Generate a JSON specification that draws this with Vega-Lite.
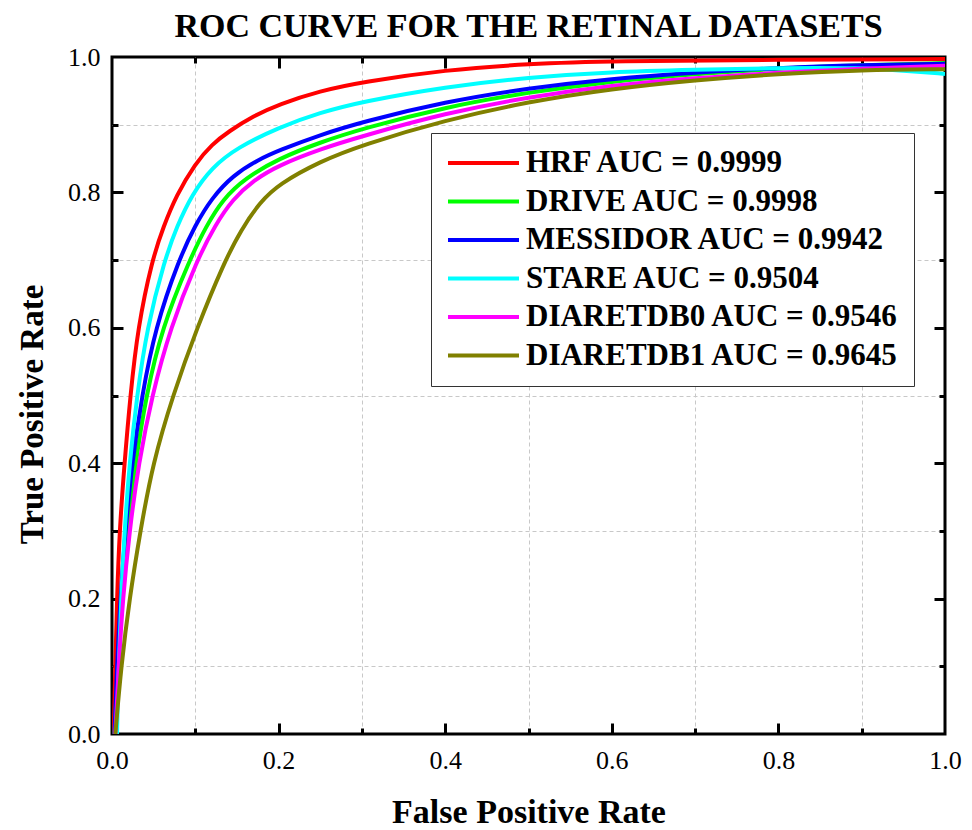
{
  "$schema": "https://vega.github.io/schema/vega-lite/v6.json",
  "width": 833,
  "height": 677,
  "autosize": {"type": "none"},
  "padding": {"left": 112, "top": 57, "right": 27, "bottom": 96},
  "background": "white",
  "config": {
    "view": {"stroke": "black", "strokeWidth": 3},
    "font": "Liberation Serif",
    "axis": {"labelFont": "Liberation Serif", "labelFontSize": 26, "labelColor": "black", "titleFont": "Liberation Serif", "titleFontSize": 33, "titleFontWeight": "bold", "titleColor": "black"}
  },
  "title": {"text": "ROC CURVE FOR THE RETINAL DATASETS", "font": "Liberation Serif", "fontSize": 34, "fontWeight": "bold", "color": "black", "anchor": "middle", "offset": 0},
  "data": {"values": [
    {"s": "HRF AUC = 0.9999", "x": 0.002, "y": 0},
    {"s": "HRF AUC = 0.9999", "x": 0.004, "y": 0.1},
    {"s": "HRF AUC = 0.9999", "x": 0.006, "y": 0.2},
    {"s": "HRF AUC = 0.9999", "x": 0.009, "y": 0.3},
    {"s": "HRF AUC = 0.9999", "x": 0.015, "y": 0.4},
    {"s": "HRF AUC = 0.9999", "x": 0.022, "y": 0.5},
    {"s": "HRF AUC = 0.9999", "x": 0.031, "y": 0.6},
    {"s": "HRF AUC = 0.9999", "x": 0.048, "y": 0.7},
    {"s": "HRF AUC = 0.9999", "x": 0.062, "y": 0.75},
    {"s": "HRF AUC = 0.9999", "x": 0.077, "y": 0.795},
    {"s": "HRF AUC = 0.9999", "x": 0.1, "y": 0.843},
    {"s": "HRF AUC = 0.9999", "x": 0.12, "y": 0.871},
    {"s": "HRF AUC = 0.9999", "x": 0.14, "y": 0.89},
    {"s": "HRF AUC = 0.9999", "x": 0.17, "y": 0.913},
    {"s": "HRF AUC = 0.9999", "x": 0.2, "y": 0.93},
    {"s": "HRF AUC = 0.9999", "x": 0.25, "y": 0.95},
    {"s": "HRF AUC = 0.9999", "x": 0.3, "y": 0.963},
    {"s": "HRF AUC = 0.9999", "x": 0.4, "y": 0.981},
    {"s": "HRF AUC = 0.9999", "x": 0.5, "y": 0.99},
    {"s": "HRF AUC = 0.9999", "x": 0.6, "y": 0.994},
    {"s": "HRF AUC = 0.9999", "x": 0.8, "y": 0.996},
    {"s": "HRF AUC = 0.9999", "x": 1.0, "y": 0.997},

    {"s": "DRIVE AUC = 0.9998", "x": 0.003, "y": 0},
    {"s": "DRIVE AUC = 0.9998", "x": 0.007, "y": 0.1},
    {"s": "DRIVE AUC = 0.9998", "x": 0.012, "y": 0.2},
    {"s": "DRIVE AUC = 0.9998", "x": 0.019, "y": 0.3},
    {"s": "DRIVE AUC = 0.9998", "x": 0.028, "y": 0.4},
    {"s": "DRIVE AUC = 0.9998", "x": 0.041, "y": 0.5},
    {"s": "DRIVE AUC = 0.9998", "x": 0.06, "y": 0.6},
    {"s": "DRIVE AUC = 0.9998", "x": 0.093, "y": 0.7},
    {"s": "DRIVE AUC = 0.9998", "x": 0.113, "y": 0.75},
    {"s": "DRIVE AUC = 0.9998", "x": 0.133, "y": 0.79},
    {"s": "DRIVE AUC = 0.9998", "x": 0.16, "y": 0.821},
    {"s": "DRIVE AUC = 0.9998", "x": 0.2, "y": 0.85},
    {"s": "DRIVE AUC = 0.9998", "x": 0.25, "y": 0.874},
    {"s": "DRIVE AUC = 0.9998", "x": 0.3, "y": 0.894},
    {"s": "DRIVE AUC = 0.9998", "x": 0.4, "y": 0.926},
    {"s": "DRIVE AUC = 0.9998", "x": 0.5, "y": 0.948},
    {"s": "DRIVE AUC = 0.9998", "x": 0.6, "y": 0.964},
    {"s": "DRIVE AUC = 0.9998", "x": 0.7, "y": 0.975},
    {"s": "DRIVE AUC = 0.9998", "x": 0.8, "y": 0.983},
    {"s": "DRIVE AUC = 0.9998", "x": 0.9, "y": 0.988},
    {"s": "DRIVE AUC = 0.9998", "x": 1.0, "y": 0.991},

    {"s": "MESSIDOR AUC = 0.9942", "x": 0.003, "y": 0},
    {"s": "MESSIDOR AUC = 0.9942", "x": 0.006, "y": 0.1},
    {"s": "MESSIDOR AUC = 0.9942", "x": 0.01, "y": 0.2},
    {"s": "MESSIDOR AUC = 0.9942", "x": 0.016, "y": 0.3},
    {"s": "MESSIDOR AUC = 0.9942", "x": 0.024, "y": 0.4},
    {"s": "MESSIDOR AUC = 0.9942", "x": 0.036, "y": 0.5},
    {"s": "MESSIDOR AUC = 0.9942", "x": 0.052, "y": 0.6},
    {"s": "MESSIDOR AUC = 0.9942", "x": 0.08, "y": 0.7},
    {"s": "MESSIDOR AUC = 0.9942", "x": 0.1, "y": 0.752},
    {"s": "MESSIDOR AUC = 0.9942", "x": 0.12, "y": 0.792},
    {"s": "MESSIDOR AUC = 0.9942", "x": 0.145, "y": 0.825},
    {"s": "MESSIDOR AUC = 0.9942", "x": 0.175, "y": 0.848},
    {"s": "MESSIDOR AUC = 0.9942", "x": 0.2, "y": 0.862},
    {"s": "MESSIDOR AUC = 0.9942", "x": 0.25, "y": 0.885},
    {"s": "MESSIDOR AUC = 0.9942", "x": 0.3, "y": 0.904},
    {"s": "MESSIDOR AUC = 0.9942", "x": 0.4, "y": 0.934},
    {"s": "MESSIDOR AUC = 0.9942", "x": 0.5, "y": 0.954},
    {"s": "MESSIDOR AUC = 0.9942", "x": 0.6, "y": 0.968},
    {"s": "MESSIDOR AUC = 0.9942", "x": 0.7, "y": 0.977},
    {"s": "MESSIDOR AUC = 0.9942", "x": 0.8, "y": 0.984},
    {"s": "MESSIDOR AUC = 0.9942", "x": 0.9, "y": 0.988},
    {"s": "MESSIDOR AUC = 0.9942", "x": 1.0, "y": 0.99},

    {"s": "STARE AUC = 0.9504", "x": 0.006, "y": 0},
    {"s": "STARE AUC = 0.9504", "x": 0.008, "y": 0.1},
    {"s": "STARE AUC = 0.9504", "x": 0.011, "y": 0.2},
    {"s": "STARE AUC = 0.9504", "x": 0.015, "y": 0.3},
    {"s": "STARE AUC = 0.9504", "x": 0.021, "y": 0.4},
    {"s": "STARE AUC = 0.9504", "x": 0.03, "y": 0.5},
    {"s": "STARE AUC = 0.9504", "x": 0.042, "y": 0.6},
    {"s": "STARE AUC = 0.9504", "x": 0.063, "y": 0.7},
    {"s": "STARE AUC = 0.9504", "x": 0.078, "y": 0.75},
    {"s": "STARE AUC = 0.9504", "x": 0.096, "y": 0.797},
    {"s": "STARE AUC = 0.9504", "x": 0.12, "y": 0.837},
    {"s": "STARE AUC = 0.9504", "x": 0.15, "y": 0.866},
    {"s": "STARE AUC = 0.9504", "x": 0.2, "y": 0.896},
    {"s": "STARE AUC = 0.9504", "x": 0.25, "y": 0.918},
    {"s": "STARE AUC = 0.9504", "x": 0.3, "y": 0.934},
    {"s": "STARE AUC = 0.9504", "x": 0.4, "y": 0.956},
    {"s": "STARE AUC = 0.9504", "x": 0.5, "y": 0.97},
    {"s": "STARE AUC = 0.9504", "x": 0.6, "y": 0.978},
    {"s": "STARE AUC = 0.9504", "x": 0.7, "y": 0.981},
    {"s": "STARE AUC = 0.9504", "x": 0.8, "y": 0.984},
    {"s": "STARE AUC = 0.9504", "x": 0.9, "y": 0.984},
    {"s": "STARE AUC = 0.9504", "x": 0.95, "y": 0.98},
    {"s": "STARE AUC = 0.9504", "x": 1.0, "y": 0.975},

    {"s": "DIARETDB0 AUC = 0.9546", "x": 0.004, "y": 0},
    {"s": "DIARETDB0 AUC = 0.9546", "x": 0.008, "y": 0.1},
    {"s": "DIARETDB0 AUC = 0.9546", "x": 0.013, "y": 0.2},
    {"s": "DIARETDB0 AUC = 0.9546", "x": 0.021, "y": 0.3},
    {"s": "DIARETDB0 AUC = 0.9546", "x": 0.032, "y": 0.4},
    {"s": "DIARETDB0 AUC = 0.9546", "x": 0.048, "y": 0.5},
    {"s": "DIARETDB0 AUC = 0.9546", "x": 0.07, "y": 0.6},
    {"s": "DIARETDB0 AUC = 0.9546", "x": 0.102, "y": 0.7},
    {"s": "DIARETDB0 AUC = 0.9546", "x": 0.124, "y": 0.752},
    {"s": "DIARETDB0 AUC = 0.9546", "x": 0.145, "y": 0.79},
    {"s": "DIARETDB0 AUC = 0.9546", "x": 0.17, "y": 0.818},
    {"s": "DIARETDB0 AUC = 0.9546", "x": 0.2, "y": 0.84},
    {"s": "DIARETDB0 AUC = 0.9546", "x": 0.25, "y": 0.864},
    {"s": "DIARETDB0 AUC = 0.9546", "x": 0.3, "y": 0.883},
    {"s": "DIARETDB0 AUC = 0.9546", "x": 0.4, "y": 0.917},
    {"s": "DIARETDB0 AUC = 0.9546", "x": 0.5, "y": 0.941},
    {"s": "DIARETDB0 AUC = 0.9546", "x": 0.6, "y": 0.958},
    {"s": "DIARETDB0 AUC = 0.9546", "x": 0.7, "y": 0.969},
    {"s": "DIARETDB0 AUC = 0.9546", "x": 0.8, "y": 0.977},
    {"s": "DIARETDB0 AUC = 0.9546", "x": 0.9, "y": 0.983},
    {"s": "DIARETDB0 AUC = 0.9546", "x": 1.0, "y": 0.987},

    {"s": "DIARETDB1 AUC = 0.9645", "x": 0.004, "y": 0},
    {"s": "DIARETDB1 AUC = 0.9645", "x": 0.011, "y": 0.1},
    {"s": "DIARETDB1 AUC = 0.9645", "x": 0.021, "y": 0.2},
    {"s": "DIARETDB1 AUC = 0.9645", "x": 0.034, "y": 0.3},
    {"s": "DIARETDB1 AUC = 0.9645", "x": 0.049, "y": 0.4},
    {"s": "DIARETDB1 AUC = 0.9645", "x": 0.073, "y": 0.5},
    {"s": "DIARETDB1 AUC = 0.9645", "x": 0.102, "y": 0.6},
    {"s": "DIARETDB1 AUC = 0.9645", "x": 0.134, "y": 0.695},
    {"s": "DIARETDB1 AUC = 0.9645", "x": 0.155, "y": 0.745},
    {"s": "DIARETDB1 AUC = 0.9645", "x": 0.178, "y": 0.786},
    {"s": "DIARETDB1 AUC = 0.9645", "x": 0.2, "y": 0.812},
    {"s": "DIARETDB1 AUC = 0.9645", "x": 0.25, "y": 0.846},
    {"s": "DIARETDB1 AUC = 0.9645", "x": 0.3, "y": 0.87},
    {"s": "DIARETDB1 AUC = 0.9645", "x": 0.4, "y": 0.907},
    {"s": "DIARETDB1 AUC = 0.9645", "x": 0.5, "y": 0.934},
    {"s": "DIARETDB1 AUC = 0.9645", "x": 0.6, "y": 0.953},
    {"s": "DIARETDB1 AUC = 0.9645", "x": 0.7, "y": 0.966},
    {"s": "DIARETDB1 AUC = 0.9645", "x": 0.8, "y": 0.975},
    {"s": "DIARETDB1 AUC = 0.9645", "x": 0.9, "y": 0.981},
    {"s": "DIARETDB1 AUC = 0.9645", "x": 1.0, "y": 0.982}
  ]},
  "layer": [
    {
      "mark": {"type": "point", "opacity": 0},
      "encoding": {
        "x": {"field": "x", "type": "quantitative", "scale": {"domain": [0, 1], "nice": false, "zero": false},
              "axis": {"orient": "bottom", "values": [0.1, 0.3, 0.5, 0.7, 0.9], "labels": false, "ticks": true, "tickSize": -6, "tickWidth": 3, "tickColor": "black", "domain": false, "grid": true, "gridColor": "#c8c8c8", "gridDash": [4, 3], "gridWidth": 1, "title": null}},
        "y": {"field": "y", "type": "quantitative", "scale": {"domain": [0, 1], "nice": false, "zero": false},
              "axis": {"orient": "left", "values": [0.1, 0.3, 0.5, 0.7, 0.9], "labels": false, "ticks": true, "tickSize": -6, "tickWidth": 3, "tickColor": "black", "domain": false, "grid": true, "gridColor": "#c8c8c8", "gridDash": [4, 3], "gridWidth": 1, "title": null}}
      }
    },
    {
      "mark": {"type": "point", "opacity": 0},
      "encoding": {
        "x": {"field": "x", "type": "quantitative",
              "axis": {"orient": "bottom", "values": [0.2, 0.4, 0.6, 0.8], "labels": false, "ticks": true, "tickSize": -11, "tickWidth": 3, "tickColor": "black", "domain": false, "grid": false, "title": null}},
        "y": {"field": "y", "type": "quantitative",
              "axis": {"orient": "left", "values": [0.2, 0.4, 0.6, 0.8], "labels": false, "ticks": true, "tickSize": -11, "tickWidth": 3, "tickColor": "black", "domain": false, "grid": false, "title": null}}
      }
    },
    {
      "mark": {"type": "point", "opacity": 0},
      "encoding": {
        "x": {"field": "x", "type": "quantitative",
              "axis": {"orient": "top", "values": [0.2, 0.4, 0.6, 0.8], "labels": false, "ticks": true, "tickSize": -11, "tickWidth": 3, "tickColor": "black", "domain": false, "grid": false, "title": null}},
        "y": {"field": "y", "type": "quantitative",
              "axis": {"orient": "right", "values": [0.2, 0.4, 0.6, 0.8], "labels": false, "ticks": true, "tickSize": -11, "tickWidth": 3, "tickColor": "black", "domain": false, "grid": false, "title": null}}
      }
    },
    {
      "mark": {"type": "point", "opacity": 0},
      "encoding": {
        "x": {"field": "x", "type": "quantitative",
              "axis": {"orient": "top", "values": [0.1, 0.3, 0.5, 0.7, 0.9], "labels": false, "ticks": true, "tickSize": -6, "tickWidth": 3, "tickColor": "black", "domain": false, "grid": false, "title": null}},
        "y": {"field": "y", "type": "quantitative",
              "axis": {"orient": "right", "values": [0.1, 0.3, 0.5, 0.7, 0.9], "labels": false, "ticks": true, "tickSize": -6, "tickWidth": 3, "tickColor": "black", "domain": false, "grid": false, "title": null}}
      }
    },
    {
      "mark": {"type": "line", "strokeWidth": 4, "interpolate": "basis", "clip": true},
      "encoding": {
        "x": {"field": "x", "type": "quantitative",
              "axis": {"orient": "bottom", "values": [0, 0.2, 0.4, 0.6, 0.8, 1], "format": ".1f", "ticks": false, "domain": false, "grid": false, "labelFlush": false, "labelOverlap": false, "labelPadding": 13, "title": "False Positive Rate", "titleFontSize": 34, "titlePadding": 22}},
        "y": {"field": "y", "type": "quantitative",
              "axis": {"orient": "left", "values": [0, 0.2, 0.4, 0.6, 0.8, 1], "format": ".1f", "ticks": false, "domain": false, "grid": false, "labelFlush": false, "labelOverlap": false, "labelPadding": 12, "title": "True Positive Rate", "titlePadding": 18, "titleY": 357}},
        "order": {"field": "x", "type": "quantitative"},
        "color": {"field": "s", "type": "nominal",
                  "scale": {"domain": ["HRF AUC = 0.9999", "DRIVE AUC = 0.9998", "MESSIDOR AUC = 0.9942", "STARE AUC = 0.9504", "DIARETDB0 AUC = 0.9546", "DIARETDB1 AUC = 0.9645"],
                            "range": ["#ff0000", "#00ff00", "#0000ff", "#00ffff", "#ff00ff", "#808000"]},
                  "legend": {"orient": "none", "legendX": 319, "legendY": 76, "title": null, "strokeColor": "#333333", "fillColor": "white", "padding": 15, "symbolType": "stroke", "symbolSize": 5041, "symbolStrokeWidth": 4, "clipHeight": 30, "labelFont": "Liberation Serif", "labelFontSize": 31, "labelFontWeight": "bold", "labelColor": "black", "labelOffset": 5, "rowPadding": 7.5, "labelLimit": 600}}
      }
    }
  ],
  "resolve": {"axis": {"x": "independent", "y": "independent"}}
}
